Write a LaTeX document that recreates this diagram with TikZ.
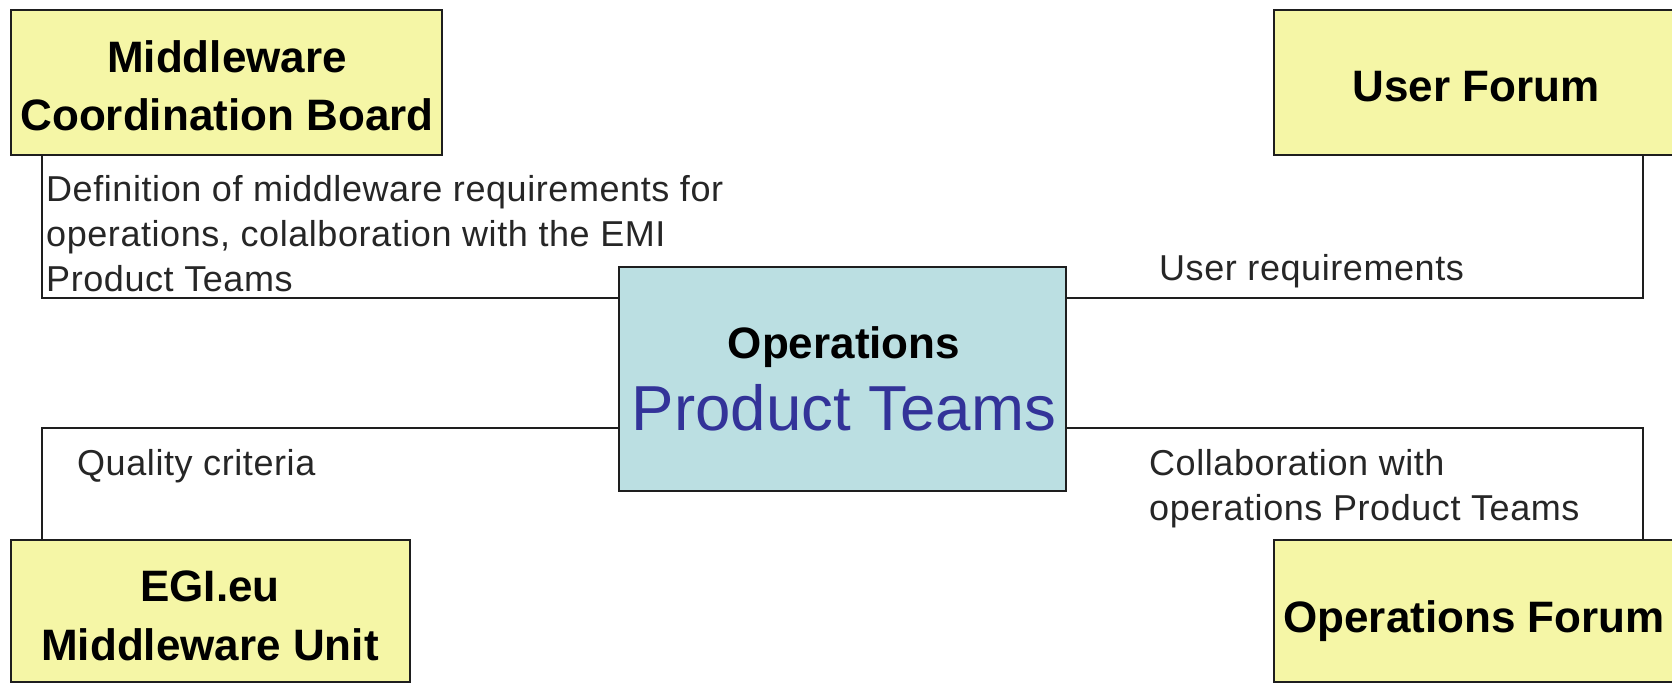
\documentclass[tikz,border=0pt]{standalone}
\usepackage{fontspec}
\setmainfont{Liberation Sans}
\newfontfamily\lblfont[LetterSpace=1.6]{Liberation Sans}
\definecolor{yfill}{RGB}{245,246,166}
\definecolor{cfill}{RGB}{187,223,226}
\definecolor{ptblue}{RGB}{51,51,153}
\definecolor{linec}{RGB}{30,30,30}
\begin{document}
\begin{tikzpicture}[x=1pt,y=-1pt,
  titlebox/.style={rectangle, draw=linec, line width=2pt, fill=yfill, inner sep=0pt},
  centerbox/.style={rectangle, draw=linec, line width=2pt, fill=cfill, inner sep=0pt},
  titletext/.style={inner sep=0pt, align=center, text=black, font=\bfseries\fontsize{44}{58}\selectfont},
  pttext/.style={inner sep=0pt, text=ptblue, font=\fontsize{63.6}{70}\selectfont},
  lbltext/.style={inner sep=0pt, align=left, text=black!85, font=\lblfont\fontsize{36}{45}\selectfont},
  conn/.style={draw=linec, line width=2pt}]
\useasboundingbox (0,0) rectangle (1672,684);
\fill[white] (0,0) rectangle (1672,684);
% boxes
\node[titlebox, minimum width=431pt, minimum height=145pt] (mcb) at (226.5,82.5) {};
\node[titlebox, minimum width=416pt, minimum height=145pt] (uf) at (1482,82.5) {};
\node[titlebox, minimum width=399pt, minimum height=142pt] (egi) at (210.5,611) {};
\node[titlebox, minimum width=416pt, minimum height=142pt] (of) at (1482,611) {};
\node[centerbox, minimum width=447pt, minimum height=224pt] (ctr) at (842.5,379) {};
% connectors
\draw[conn] ([xshift=31.5pt]mcb.south west) |- ([yshift=81pt]ctr.west);
\draw[conn] ([xshift=161pt]uf.south) |- ([yshift=81pt]ctr.east);
\draw[conn] ([xshift=31.5pt]egi.north west) |- ([yshift=-49pt]ctr.west);
\draw[conn] ([xshift=161pt]of.north) |- ([yshift=-49pt]ctr.east);
% box texts
\node[titletext, anchor=north] (mcbt) at (227,31.4) {\strut Middleware\\Coordination Board};
\node[titletext, anchor=base] (uft) at (1476,102) {User Forum};
\node[titletext, anchor=north, font=\bfseries\fontsize{44}{59}\selectfont] (egit) at (210,559.7) {\strut EGI.eu\\Middleware Unit};
\node[titletext, anchor=base] (oft) at (1474,632) {Operations Forum};
\node[titletext, anchor=base] (opst) at (844,359) {Operations};
\node[pttext, anchor=base] (ptt) at (844,430) {Product Teams};
% connector labels
\node[lbltext, anchor=north west] (l1) at (46,170.2) {\strut Definition of middleware requirements for\\operations, colalboration with the EMI\\Product Teams};
\node[lbltext, anchor=base west] (l2) at (1159,281) {User requirements};
\node[lbltext, anchor=base west] (l3) at (77,475) {Quality criteria};
\node[lbltext, anchor=north west] (l4) at (1149,444) {\strut Collaboration with\\operations Product Teams};
\end{tikzpicture}
\end{document}
